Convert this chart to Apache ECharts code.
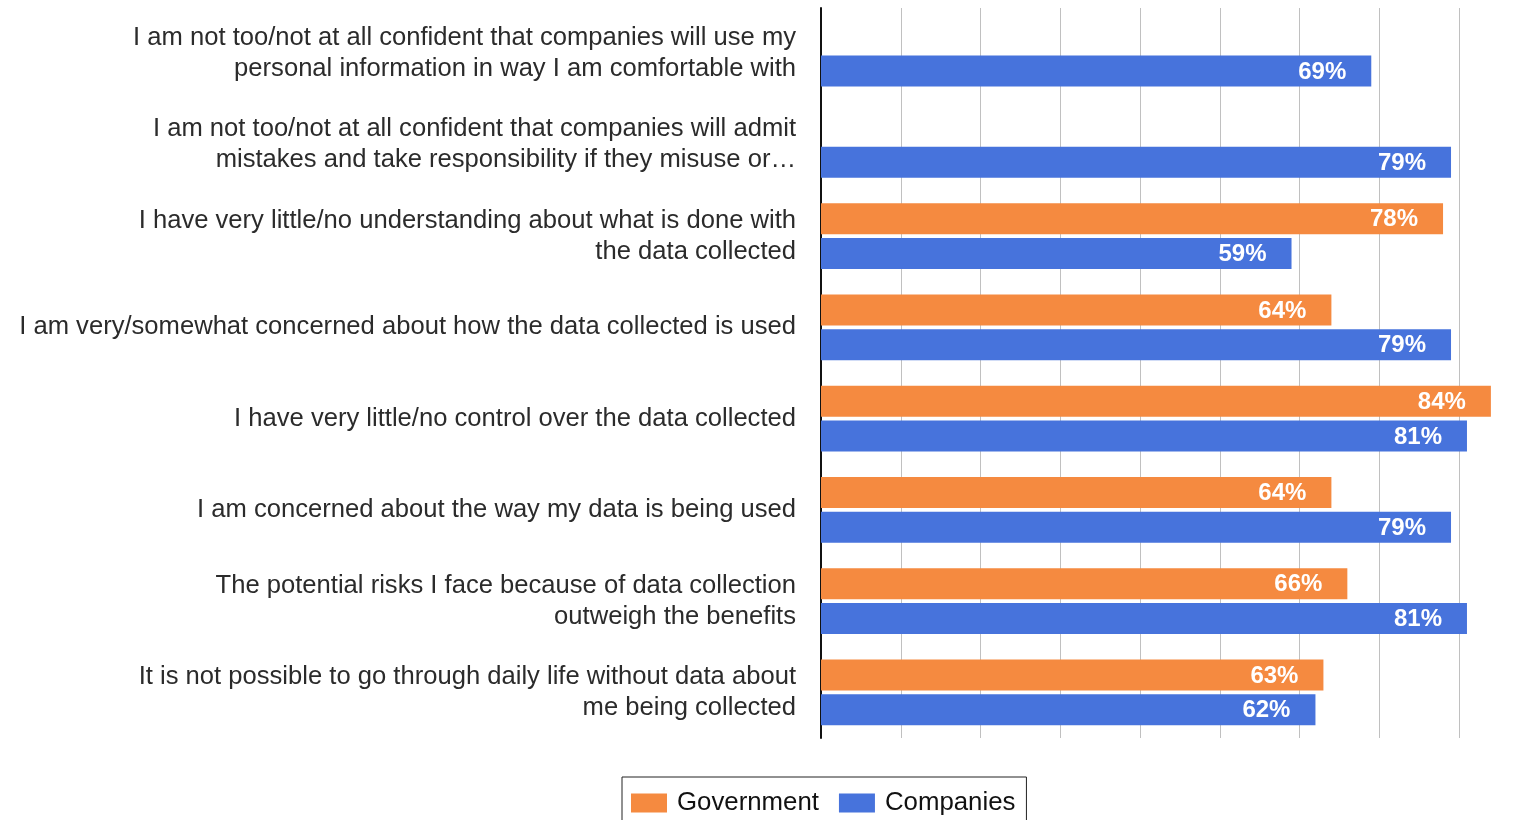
<!DOCTYPE html>
<html>
<head>
<meta charset="utf-8">
<script src="https://cdn.jsdelivr.net/npm/echarts@6/dist/echarts.min.js"></script>
<style>
  html, body { margin: 0; padding: 0; background: #fff; }
  #chart { width: 1519px; height: 820px; }
</style>
</head>
<body>
<div id="chart"></div>
<script>
// Survey statements, top to bottom
const categories = [
  'I am not too/not at all confident that companies will use my\npersonal information in way I am comfortable with',
  'I am not too/not at all confident that companies will admit\nmistakes and take responsibility if they misuse or\u2026',
  'I have very little/no understanding about what is done with\nthe data collected',
  'I am very/somewhat concerned about how the data collected is used',
  'I have very little/no control over the data collected',
  'I am concerned about the way my data is being used',
  'The potential risks I face because of data collection\noutweigh the benefits',
  'It is not possible to go through daily life without data about\nme being collected'
];

// Share of respondents (%), null where the statement was not asked
const governmentValues = [null, null, 78, 64, 84, 64, 66, 63];
const companiesValues  = [69, 79, 59, 79, 81, 79, 81, 62];

const seriesNames = ['Government', 'Companies'];
const seriesColors = ['#F58A40', '#4773DC'];

const FONT = '"Liberation Sans", Arial, Helvetica, sans-serif';

const chart = echarts.init(document.getElementById('chart'));

const valueLabel = {
  show: true,
  position: 'insideRight',
  distance: 25,
  offset: [0, 1],
  color: '#fff',
  fontWeight: 'bold',
  fontSize: 24,
  fontFamily: FONT,
  formatter: p => p.value + '%'
};

chart.setOption({
  animation: false,
  backgroundColor: '#fff',
  grid: { left: 821, right: 60, top: 8, bottom: 82, containLabel: false },
  legend: {
    data: seriesNames,
    left: 622,
    top: 777,
    itemWidth: 36,
    itemHeight: 19,
    itemGap: 20,
    padding: [13, 11, 14, 9],
    borderColor: '#222',
    borderWidth: 1,
    icon: 'rect',
    textStyle: { fontSize: 25.8, color: '#111', fontFamily: FONT, padding: [0, 0, 0, 5] }
  },
  xAxis: {
    type: 'value',
    min: 0,
    max: 80,
    interval: 10,
    axisLine: { show: false },
    axisTick: { show: false },
    axisLabel: { show: false },
    splitLine: { show: true, lineStyle: { color: '#c0c0c0', width: 1 } }
  },
  yAxis: {
    type: 'category',
    inverse: true,
    data: categories,
    axisLine: { show: true, lineStyle: { color: '#111', width: 2 } },
    axisTick: { show: false },
    axisLabel: {
      margin: 25,
      fontSize: 25.6,
      lineHeight: 31,
      color: '#2b2b2b',
      fontFamily: FONT,
      align: 'right'
    }
  },
  series: [
    {
      name: seriesNames[0],
      type: 'bar',
      data: governmentValues,
      barWidth: 31,
      barGap: '12%',
      clip: false,
      itemStyle: { color: seriesColors[0] },
      label: valueLabel
    },
    {
      name: seriesNames[1],
      type: 'bar',
      data: companiesValues,
      barWidth: 31,
      barGap: '12%',
      clip: false,
      itemStyle: { color: seriesColors[1] },
      label: valueLabel
    }
  ]
});
</script>
</body>
</html>
